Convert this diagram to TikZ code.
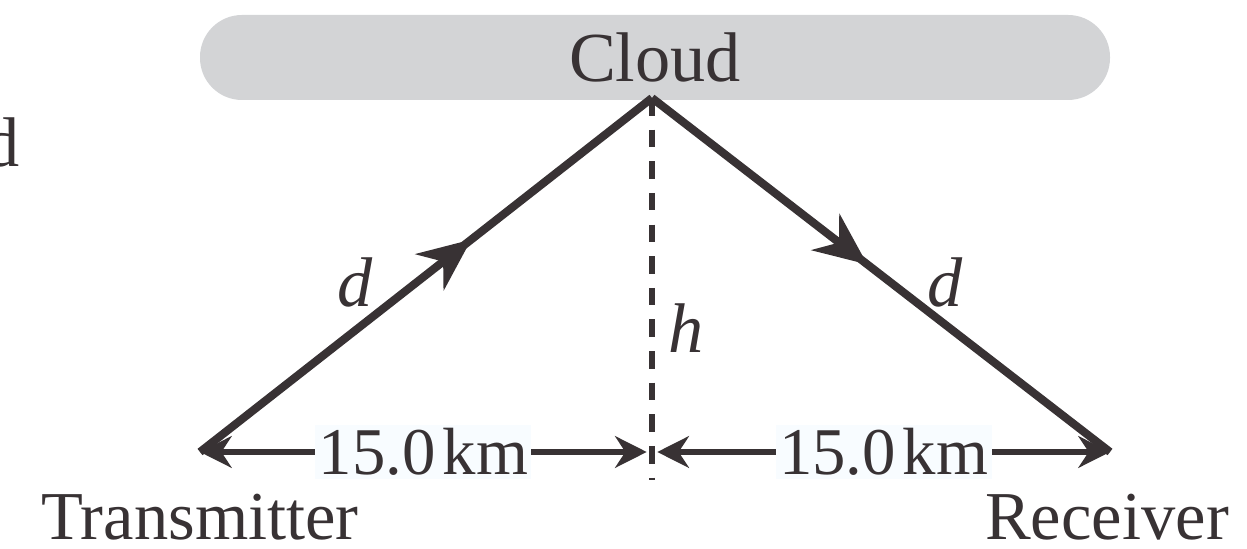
\documentclass[tikz,border=0pt]{standalone}
\usepackage{fontspec}
\setmainfont{Liberation Serif}
\usepackage{xcolor}
\usepackage{tikz}
\usetikzlibrary{arrows.meta,decorations.markings}
\definecolor{ink}{RGB}{56,50,52}
\definecolor{cloudgray}{RGB}{211,212,214}
\definecolor{lblfill}{RGB}{248,252,255}
\tikzset{
  cloudbox/.style={fill=cloudgray, rounded corners=0.42cm, minimum width=9.1cm, minimum height=0.85cm, inner sep=0pt, text=ink},
  ray/.style={ink, line width=2.3pt, line join=miter, postaction={decorate}},
  dimline/.style={ink, line width=1.6pt, {Stealth[length=9pt,width=9pt]}-{Stealth[length=9pt,width=9pt]}},
  heightline/.style={ink, line width=1.6pt, dash pattern=on 5pt off 4pt},
  lbl/.style={text=ink, inner sep=1pt},
  endlbl/.style={text=ink, inner sep=0pt, font=\fontsize{19.5}{23}\selectfont},
  dimlbl/.style={fill=lblfill, text=ink, inner sep=1pt, font=\fontsize{19}{22}\selectfont}
}

\begin{document}
\begin{tikzpicture}[font=\fontsize{20}{24}\selectfont]
  \useasboundingbox (0,0) rectangle (12.47,5.49);
  \node[cloudbox] (cloud) at (6.55,4.915) {Cloud};
  \node[lbl, anchor=east] (cut) at (0.24,4.07) {d};
  \coordinate (top) at (6.52,4.51);
  \coordinate (tx) at (2.0,0.97);
  \coordinate (rx) at (11.1,0.97);
  \coordinate (foot) at (6.52,0.97);
  \coordinate (base) at (6.52,0.69);
  \node[endlbl] (txlabel) at (2.0,0.32) {Transmitter};
  \node[endlbl] (rxlabel) at (11.07,0.32) {Receiver};
  \draw[heightline] (top) -- (base);
  \draw[ray, decoration={markings, mark=at position 0.6 with {\arrow{Stealth[length=15pt,width=13pt]}}}] (tx) -- (top);
  \draw[ray, decoration={markings, mark=at position 0.47 with {\arrow{Stealth[length=15pt,width=13pt]}}}] (top) -- (rx);
  \draw[dimline] (tx) -- node[dimlbl] (leftdist) {15.0\kern2pt km} ([xshift=-1.5pt]foot);
  \draw[dimline] ([xshift=1.5pt]foot) -- node[dimlbl] (rightdist) {15.0\kern2pt km} (rx);
  \node[lbl] (dleft) at (3.55,2.67) {\textit{d}};
  \node[lbl] (dright) at (9.45,2.67) {\textit{d}};
  \node[lbl] (hlabel) at (6.86,2.21) {\textit{h}};
\end{tikzpicture}
\end{document}
